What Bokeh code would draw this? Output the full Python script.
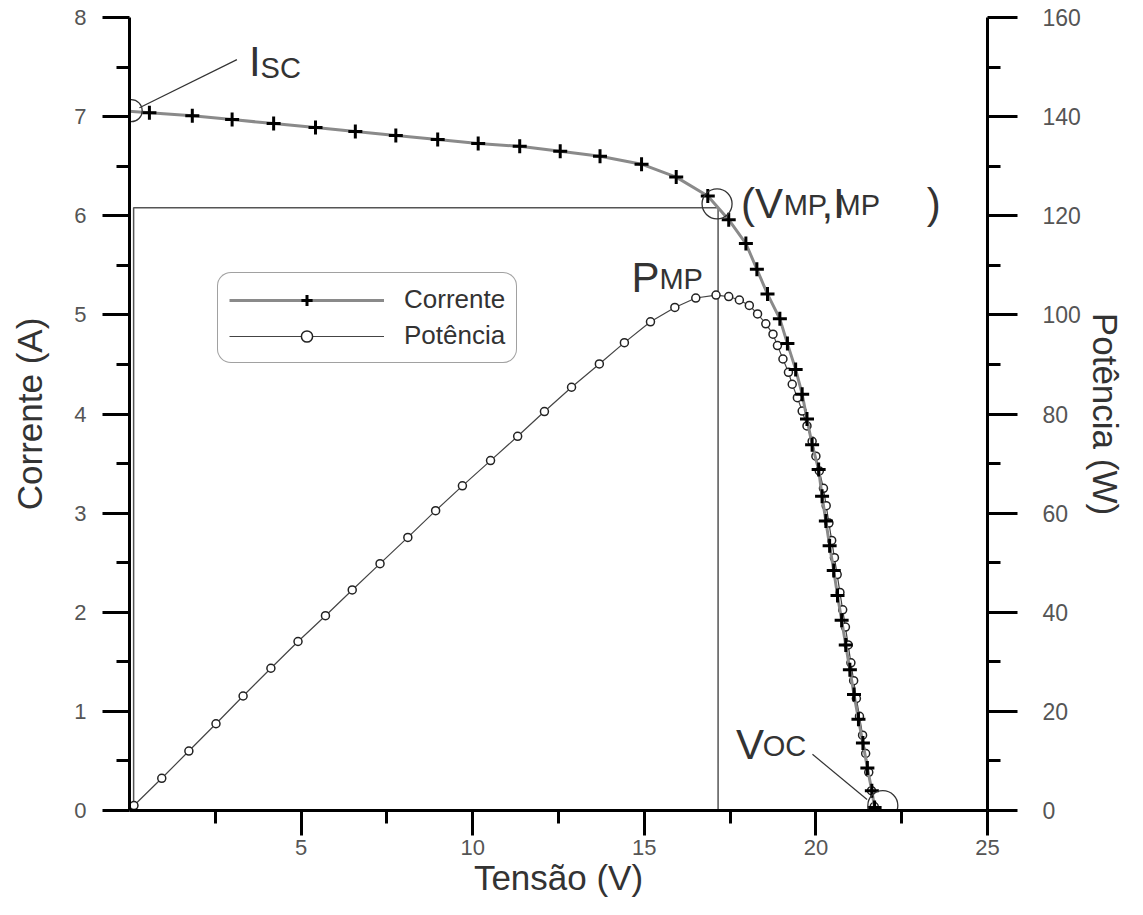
from bokeh.plotting import figure
from bokeh.models import Range1d, LinearAxis, FixedTicker, Legend, LegendItem
from bokeh.core.properties import value
from bokeh.embed import file_html
from bokeh.resources import INLINE

# ---- data ----
volt_i = [-0.64, 0.58, 1.83, 2.99, 4.20, 5.42, 6.58, 7.76, 8.98, 10.16, 11.37, 12.55,
          13.71, 14.92, 15.93, 16.85, 17.46, 17.96, 18.28, 18.59, 18.95, 19.17, 19.41,
          19.60, 19.74, 19.89, 20.08, 20.18, 20.29, 20.40, 20.52, 20.63, 20.75, 20.87,
          20.99, 21.11, 21.24, 21.37, 21.50, 21.63, 21.71]
corrente = [7.07, 7.04, 7.01, 6.97, 6.93, 6.89, 6.85, 6.81, 6.77, 6.73, 6.70, 6.65,
            6.60, 6.52, 6.39, 6.20, 5.96, 5.72, 5.46, 5.21, 4.96, 4.71, 4.45,
            4.20, 3.95, 3.69, 3.44, 3.17, 2.92, 2.67, 2.42, 2.17, 1.92, 1.67,
            1.42, 1.17, 0.92, 0.68, 0.43, 0.20, 0.03]

volt_p = [-0.64, 0.13, 0.94, 1.73, 2.52, 3.31, 4.12, 4.91, 5.71, 6.49, 7.30, 8.11,
          8.92, 9.70, 10.52, 11.31, 12.09, 12.88, 13.69, 14.42, 15.18, 15.89, 16.50,
          17.09, 17.46, 17.77, 18.06, 18.30, 18.54, 18.75, 18.88, 19.04, 19.20, 19.31,
          19.46, 19.60, 19.74, 19.89, 20.00, 20.10, 20.22, 20.30, 20.38, 20.46, 20.54,
          20.62, 20.70, 20.78, 20.86, 20.94, 21.02, 21.10, 21.18, 21.27, 21.36, 21.45,
          21.54, 21.62, 21.70]
potencia = [-4.3, 1.0, 6.5, 12.0, 17.5, 23.1, 28.7, 34.1, 39.3, 44.5, 49.8, 55.1,
            60.5, 65.5, 70.6, 75.5, 80.5, 85.4, 90.1, 94.4, 98.6, 101.5, 103.4,
            104.0, 103.7, 103.0, 101.9, 100.2, 98.2, 96.1, 93.8, 91.1, 88.4, 86.0,
            83.3, 80.6, 77.6, 74.5, 71.5, 68.5, 65.0, 61.5, 58.0, 54.5, 51.0,
            47.6, 44.0, 40.5, 37.0, 33.4, 29.8, 26.2, 22.6, 19.0, 15.2, 11.5,
            7.7, 4.0, 0.8]

x_ticks = [5, 10, 15, 20, 25]
x_minor = [2.5, 7.5, 12.5, 17.5, 22.5]
i_ticks = [0, 1, 2, 3, 4, 5, 6, 7, 8]
i_minor = [0.5, 1.5, 2.5, 3.5, 4.5, 5.5, 6.5, 7.5]
p_ticks = [0, 20, 40, 60, 80, 100, 120, 140, 160]
p_minor = [10, 30, 50, 70, 90, 110, 130, 150]

# key points (Isc, MPP, Voc) and the MPP rectangle
v_mp, i_mp = 17.15, 6.08
key_v = [0.05, 17.12, 21.95]
key_i = [7.06, 6.12, 0.05]
key_size = [22, 30, 30]

# annotation texts (big letters and subscripts), positions in data units
big_txt = ["I", "(V", ",I", ")", "P", "V"]
big_x = [3.48, 17.82, 20.16, 23.23, 14.63, 17.67]
big_y = [7.554, 6.127, 6.127, 6.127, 5.377, 0.668]
sub_txt = ["SC", "MP", "MP", "MP", "OC"]
sub_x = [3.82, 19.06, 20.60, 15.44, 18.45]
sub_y = [7.494, 6.107, 6.107, 5.357, 0.648]
lead_x0 = [0.29, 19.90]
lead_y0 = [7.089, 0.567]
lead_x1 = [3.13, 21.49]
lead_y1 = [7.575, 0.111]

FONT = "Liberation Sans"
TXT = "#333333"

p = figure(width=1127, height=899, output_backend="svg", toolbar_location=None,
           x_range=Range1d(0, 25), y_range=Range1d(0, 8),
           min_border_left=129, min_border_right=137, min_border_top=17, min_border_bottom=88)
p.extra_y_ranges = {"pw": Range1d(0, 160)}
p.grid.visible = False
p.outline_line_color = None
p.background_fill_color = "white"

xaxis = p.xaxis[0]
laxis = p.yaxis[0]
raxis = LinearAxis(y_range_name="pw")
p.add_layout(raxis, "right")

xaxis.axis_label = "Tensão (V)"
laxis.axis_label = "Corrente (A)"
raxis.axis_label = "Potência (W)"
xaxis.ticker = FixedTicker(ticks=x_ticks, minor_ticks=x_minor)
laxis.ticker = FixedTicker(ticks=i_ticks, minor_ticks=i_minor)
raxis.ticker = FixedTicker(ticks=p_ticks, minor_ticks=p_minor)

for ax in [xaxis, laxis, raxis]:
    ax.axis_line_width = 3
    ax.axis_line_color = "black"
    ax.major_tick_line_width = 3
    ax.minor_tick_line_width = 3
    ax.major_tick_line_color = "black"
    ax.minor_tick_line_color = "black"
    ax.major_tick_in = 0
    ax.minor_tick_in = 0
    ax.major_tick_out = 27
    ax.minor_tick_out = 13
    ax.major_label_text_font = FONT
    ax.major_label_text_font_size = "22px"
    ax.major_label_text_color = "#555555"
    ax.axis_label_text_font = FONT
    ax.axis_label_text_font_size = "35px"
    ax.axis_label_text_font_style = "normal"
    ax.axis_label_text_color = TXT

laxis.major_label_standoff = 16
laxis.axis_label_standoff = 22
raxis.major_tick_out = 30
raxis.major_label_text_font_size = "23px"
raxis.major_label_standoff = 25
raxis.axis_label_standoff = 2
xaxis.major_tick_out = 25
xaxis.major_label_standoff = 4
xaxis.axis_label_standoff = 0

# MPP rectangle
p.quad(left=[0.12], right=[v_mp], bottom=[0], top=[i_mp], fill_color=None,
       line_color="#555555", line_width=1.5)

# power curve
lp = p.line(volt_p, potencia, y_range_name="pw", line_color="#444444", line_width=1.2)
sp = p.scatter(volt_p, potencia, y_range_name="pw", marker="circle", size=8,
               fill_color="white", line_color="#222222", line_width=1.5)

# current curve
lc = p.line(volt_i, corrente, line_color="#8a8a8a", line_width=3)
sc = p.scatter(volt_i, corrente, marker="cross", size=14, line_color="black", line_width=3)

# key point circles and leader lines
p.scatter(key_v, key_i, marker="circle", size=key_size, fill_color=None,
          line_color="#333333", line_width=1.3)
p.segment(lead_x0, lead_y0, lead_x1, lead_y1, line_color="#333333", line_width=1.2)

# annotation texts
p.text(x=big_x, y=big_y, text=big_txt, text_font=value(FONT), text_font_size="42px",
       text_color=TXT, text_baseline="alphabetic", text_align="left")
p.text(x=sub_x, y=sub_y, text=sub_txt, text_font=value(FONT), text_font_size="29px",
       text_color=TXT, text_baseline="alphabetic", text_align="left")

legend = Legend(items=[LegendItem(label="Corrente", renderers=[lc, sc]),
                       LegendItem(label="Potência", renderers=[lp, sp])],
                location=(88, 447))
legend.label_text_font = FONT
legend.label_text_font_size = "26px"
legend.label_text_color = TXT
legend.glyph_width = 155
legend.glyph_height = 28
legend.label_height = 28
legend.label_standoff = 20
legend.spacing = 5
legend.padding = 11
legend.margin = 0
legend.border_line_color = "#444444"
legend.border_line_width = 1.5
legend.background_fill_color = "white"
legend.background_fill_alpha = 1.0
if "border_radius" in Legend.properties():
    legend.border_radius = 14
p.add_layout(legend, "center")

open("out.html", "w").write(file_html(p, INLINE))
